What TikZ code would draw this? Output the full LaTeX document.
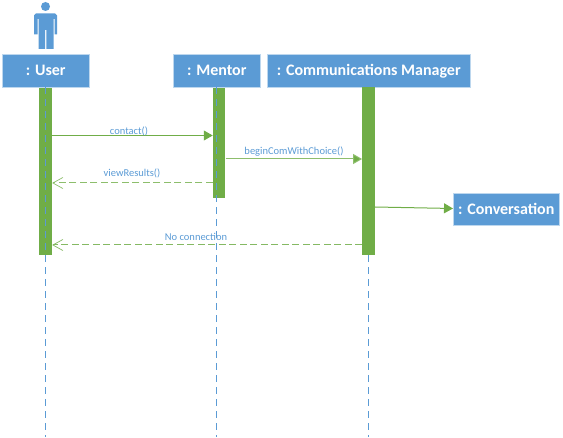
\documentclass[tikz,border=0pt]{standalone}
\usepackage{fontspec}
\setmainfont{Carlito}
\usetikzlibrary{arrows.meta}
\definecolor{boxblue}{HTML}{5B9BD5}
\definecolor{barblue}{HTML}{BDD7EE}
\definecolor{bargreen}{HTML}{70AD47}
\definecolor{lightgreen}{HTML}{8DBE6C}
\tikzset{
  objbox/.style={draw=barblue,line width=0.5pt,fill=boxblue,text=white,font=\bfseries\fontsize{16}{18}\selectfont,inner sep=0pt,anchor=north west},
  actbar/.style={fill=bargreen,draw=none,inner sep=0pt,minimum width=12.5pt,anchor=north},
  lifeline/.style={draw=boxblue,line width=0.8pt,dash pattern=on 7pt off 5pt},
  syncmsg/.style={draw=bargreen,line width=1pt,-{Triangle[length=9pt,width=10pt,fill=bargreen]}},
  replymsg/.style={draw=lightgreen,line width=1pt,dash pattern=on 7pt off 3.5pt,-{Straight Barb[length=10pt,width=11pt,line width=0.7pt]}},
  msglabel/.style={text=boxblue,font=\fontsize{10.5}{12}\selectfont,inner sep=0pt}
}
\begin{document}
\begin{tikzpicture}[x=1pt,y=-1pt]
\useasboundingbox (0,0) rectangle (563,438);
% actor
\fill[boxblue] (45.5,6.5) circle (4.5);
\fill[boxblue] (36,13.5) -- (55,13.5) -- (57,15.5) -- (57,34.5) -- (54.5,34.5) -- (54.5,19) -- (53.5,19) -- (53.5,49) -- (46.3,49) -- (46.3,30) -- (45,30) -- (45,49) -- (38.5,49) -- (38.5,19) -- (37.5,19) -- (37.5,34.5) -- (34,34.5) -- (34,15.5) -- cycle;
% objects
\node[objbox,minimum width=87pt,minimum height=33pt] (user) at (2,54) {: User};
\node[objbox,minimum width=87pt,minimum height=33pt] (mentor) at (173,54) {: Mentor};
\node[objbox,minimum width=203pt,minimum height=33pt] (comm) at (267,54) {: Communications Manager};
\node[objbox,minimum width=106pt,minimum height=32pt] (conv) at (453,193) {: Conversation};
% lifeline ends
\coordinate (userend) at (45.5,437);
\coordinate (mentorend) at (216.5,437);
\coordinate (commend) at (368.5,437);
% bars
\node[actbar,minimum height=167pt] (userbar) at (45.7,88) {};
\node[actbar,minimum height=109.5pt] (mentorbar) at (219.2,88) {};
\node[actbar,minimum height=168pt] (commbar) at (368.5,87) {};
% lifelines
\draw[lifeline] (user.south -| userend) -- (userend);
\draw[lifeline] (mentor.south -| mentorend) -- (mentorend);
\draw[lifeline] (commbar.south) -- (commend);
% messages
\draw[syncmsg] (userbar.east |- 0,135.5) -- (mentorbar.west |- 0,135.5);
\node[msglabel] (l1) at (129,131) {contact()};
\draw[syncmsg,draw=lightgreen] (mentorbar.east |- 0,159) -- (commbar.west |- 0,159);
\node[msglabel] (l2) at (294,151.5) {beginComWithChoice()};
\draw[replymsg] (mentorbar.west |- 0,183) -- (userbar.east |- 0,183);
\node[msglabel] (l3) at (132,173) {viewResults()};
\draw[syncmsg] (commbar.east |- 0,207) -- (conv.west |- 0,208.5);
\draw[replymsg,draw=bargreen!85!white] (commbar.west |- 0,245) -- (userbar.east |- 0,245);
\node[msglabel] (l4) at (196,237) {No connection};
\end{tikzpicture}
\end{document}
